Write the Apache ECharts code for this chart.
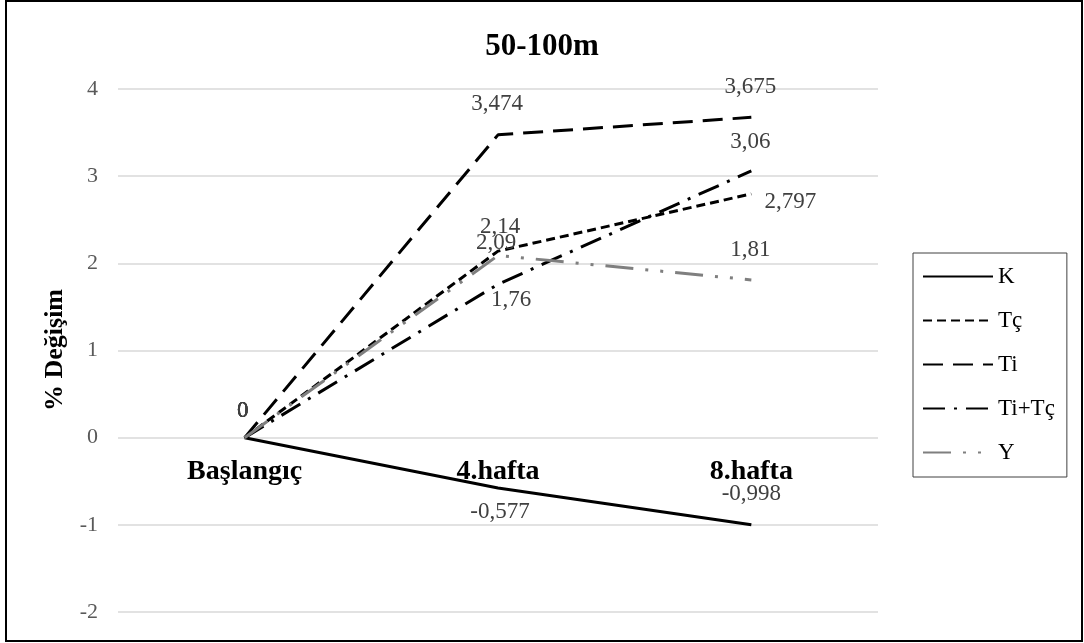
<!DOCTYPE html>
<html>
<head>
<meta charset="utf-8">
<script src="https://cdn.jsdelivr.net/npm/echarts@6/dist/echarts.min.js"></script>
<style>
  html, body { margin: 0; padding: 0; background: #fff; }
  #main { width: 1084px; height: 643px; }
</style>
</head>
<body>
<div id="main"></div>
<script>
var categories = ['Başlangıç', '4.hafta', '8.hafta'];
var seriesNames = ['K', 'Tç', 'Ti', 'Ti+Tç', 'Y'];
var valK = [0, -0.577, -0.998];
var valTc = [0, 2.14, 2.797];
var valTi = [0, 3.474, 3.675];
var valTiTc = [0, 1.76, 3.06];
var valY = [0, 2.09, 1.81];
var yTicks = [-2, -1, 0, 1, 2, 3, 4];

var font = 'Liberation Serif';
var chart = echarts.init(document.getElementById('main'));

// grid geometry, used to lift the category labels up to the zero line
var gridTop = 89, gridBottom = 31, plotH = 643 - gridTop - gridBottom;
var belowZero = plotH * (0 - yTicks[0]) / (yTicks[yTicks.length - 1] - yTicks[0]);

function fmt(p) {
  return String(p.value).replace('.', ',');
}
// every label is centred on its point, then nudged by an offset
function pts(values, offsets) {
  return values.map(function (v, i) {
    return { value: v, label: { offset: offsets[i] } };
  });
}
function lbl() {
  return { show: true, position: 'inside', formatter: fmt,
           fontFamily: font, fontSize: 23, color: '#404040' };
}
var clear = { color: 'rgba(0,0,0,0)', borderWidth: 0 };

var option = {
  backgroundColor: '#fff',
  animation: false,
  title: {
    text: '50-100m', left: 'center', top: 26,
    textStyle: { fontFamily: font, fontSize: 31, fontWeight: 'bold', color: '#000' }
  },
  graphic: [
    { type: 'rect', shape: { x: 6, y: 1, width: 1076, height: 640 },
      style: { fill: 'none', stroke: '#000', lineWidth: 2 }, silent: true },
    { type: 'text', x: 55, y: 350, rotation: Math.PI / 2, silent: true,
      style: { text: '% Değişim', font: 'bold 26px "Liberation Serif"', fill: '#000',
               align: 'center', verticalAlign: 'middle' } }
  ],
  legend: {
    data: seriesNames,
    orient: 'vertical',
    left: 913, top: 253,
    padding: [12, 12, 13, 9],
    itemWidth: 70, itemHeight: 14, itemGap: 21,
    itemStyle: { opacity: 0 },
    borderColor: '#404040', borderWidth: 1,
    textStyle: { fontFamily: font, fontSize: 23, color: '#000' }
  },
  grid: { left: 118, right: 206, top: gridTop, bottom: gridBottom, outerBoundsMode: 'none' },
  xAxis: {
    type: 'category', data: categories, boundaryGap: true,
    offset: -belowZero,
    axisLine: { show: false, onZero: false },
    axisTick: { show: false },
    axisLabel: { margin: 20, fontFamily: font, fontSize: 28, fontWeight: 'bold', color: '#000' }
  },
  yAxis: {
    type: 'value', min: yTicks[0], max: yTicks[yTicks.length - 1], interval: 1,
    axisLine: { show: false }, axisTick: { show: false },
    axisLabel: { margin: 20, fontFamily: font, fontSize: 22, color: '#595959' },
    splitLine: { lineStyle: { color: '#d9d9d9', width: 1.5 } }
  },
  series: [
    { name: 'K', type: 'line', symbol: 'circle', symbolSize: 1, itemStyle: clear,
      lineStyle: { color: '#000', width: 3, type: 'solid' },
      label: lbl(),
      data: pts(valK, [[-2, -27], [2, 24], [0, -31]]) },
    { name: 'Tç', type: 'line', symbol: 'circle', symbolSize: 1, itemStyle: clear,
      lineStyle: { color: '#000', width: 3, type: [9, 5] },
      label: lbl(),
      data: pts(valTc, [[-2, -27], [2, -24], [39, 8]]) },
    { name: 'Ti', type: 'line', symbol: 'circle', symbolSize: 1, itemStyle: clear,
      lineStyle: { color: '#000', width: 3, type: [20, 10] },
      label: lbl(),
      data: pts(valTi, [[-2, -27], [-1, -31], [-1, -30]]) },
    { name: 'Ti+Tç', type: 'line', symbol: 'circle', symbolSize: 1, itemStyle: clear,
      lineStyle: { color: '#000', width: 3, type: [22, 9, 3, 9] },
      label: lbl(),
      data: pts(valTiTc, [[-2, -27], [13, 16], [-1, -29]]) },
    { name: 'Y', type: 'line', symbol: 'circle', symbolSize: 1, itemStyle: clear,
      lineStyle: { color: '#7f7f7f', width: 3, type: [28, 12, 3, 12, 3, 12] },
      label: lbl(),
      data: pts(valY, [[-2, -27], [-2, -13], [-1, -30]]) }
  ]
};
chart.setOption(option);
</script>
</body>
</html>
